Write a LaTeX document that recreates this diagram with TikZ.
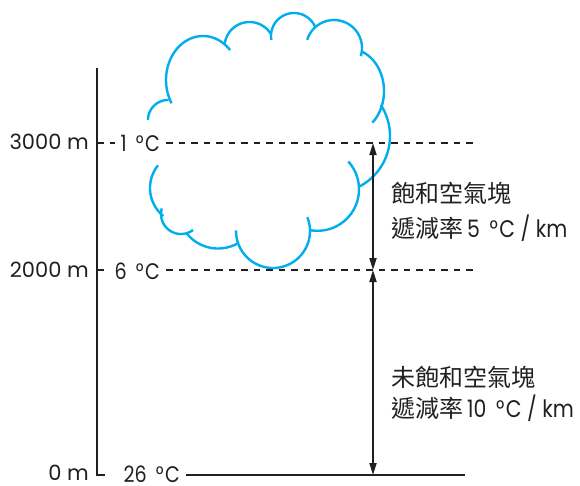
\documentclass[tikz,border=0pt]{standalone}
\usepackage{fontspec}
\setmainfont{Poppins}
\newfontfamily\narrowsans[FakeStretch=0.85]{Poppins}
\newfontfamily\cjk{Noto Sans CJK TC}
\usetikzlibrary{arrows.meta}
\definecolor{ink}{HTML}{231F20}
\definecolor{cloudblue}{HTML}{00AEEF}

% degrees Celsius, set apart from the number before it
\newcommand\degC{\hspace{0.4em}°\kern0.06em C}

% one lobe of the cloud outline: centre (#1,#2), radii #3/#4, parameter range #5..#6
\newcommand\cloudlobe[6]{%
  \draw[cloudarc] plot[domain=#5:#6, samples=40] ({#1+#3*cos(\x)},{#2+#4*sin(\x)});}

\begin{document}
\begin{tikzpicture}[x=1pt, y=-1pt,
  axisline/.style={ink, line width=2.4pt},
  levelline/.style={ink, line width=2pt, dash pattern=on 6.5pt off 6pt},
  spanarrow/.style={ink, line width=1.8pt,
    {Triangle[length=12pt,width=7pt]}-{Triangle[length=12pt,width=7pt]}},
  cloudarc/.style={cloudblue, line width=2.4pt},
  heightlabel/.style={font=\fontsize{21}{24}\selectfont, text=ink, anchor=east, inner sep=0pt},
  templabel/.style={font=\narrowsans\fontsize{22.5}{26}\selectfont, text=ink, anchor=east,
    inner xsep=6pt, inner ysep=0pt},
  ratelabel/.style={font=\narrowsans\fontsize{24}{30}\selectfont, text=ink, anchor=west, inner sep=0pt},
]
\useasboundingbox (0,0) rectangle (580,485);

% cloud outline, lobe by lobe
\cloudlobe{168}{120}{20}{20}{180}{272}
\cloudlobe{203}{80}{37}{44}{148}{317}
\cloudlobe{249.5}{47}{25}{25}{184}{328}
\cloudlobe{294}{36}{23}{23}{170}{337}
\cloudlobe{334}{48}{28}{28}{197}{377}
\cloudlobe{350}{91}{34}{42}{-70}{49}
\cloudlobe{333}{136}{57}{57}{-33}{62}
\cloudlobe{317.5}{189.3}{41.5}{41.5}{-42}{100}
\cloudlobe{273}{231}{37}{37}{-22}{181}
\cloudlobe{218}{208.5}{40}{40}{60}{142}
\cloudlobe{181}{214}{20}{20}{53}{196}
\cloudlobe{186}{188}{36}{36}{129}{219}

% axis and reference levels
\coordinate (axistop) at (97,68);
\coordinate (origin) at (97,475);
\coordinate (foot) at (105,475);
\coordinate (lv3000) at (97,143);
\coordinate (lv2000) at (97,270);
\coordinate (end3000) at (477,143);
\coordinate (end2000) at (477,270);
\coordinate (groundend) at (465,475);
\coordinate (a3000) at (373,143);
\coordinate (a2000) at (373,270);
\coordinate (a0) at (373,475);

\node[heightlabel] (h3000) at (89,141.5) {3000 m};
\node[heightlabel] (h2000) at (89,270) {2000 m};
\node[heightlabel] (h0) at (89,473) {0 m};

\node[templabel] (t1) at (166,143.5) {1\degC};
\node[templabel] (t6) at (166,271) {6\degC};
\node[templabel] (t26) at (186,474.5) {26\degC};

\draw[axisline] (axistop) -- (origin) -- (foot);
\draw[axisline] (t26.east |- origin) -- (groundend);
\draw[levelline] (lv3000) -- (t1.west |- lv3000);
\draw[levelline] (t1.east |- lv3000) -- (end3000);
\draw[levelline] (lv2000) -- (t6.west |- lv2000);
\draw[levelline] (t6.east |- lv2000) -- (end2000);

\draw[spanarrow] (a3000) -- (a2000);
\draw[spanarrow] (a2000) -- (a0);

\node[ratelabel] (r1a) at (391,193.5) {\cjk 飽和空氣塊};
\node[ratelabel] (r1b) at (391,228.5) {{\cjk 遞減率}\,5\degC{} / km};
\node[ratelabel] (r2a) at (391,377.5) {\cjk 未飽和空氣塊};
\node[ratelabel] (r2b) at (391,408) {{\cjk 遞減率}\,10\degC{} / km};
\end{tikzpicture}
\end{document}
